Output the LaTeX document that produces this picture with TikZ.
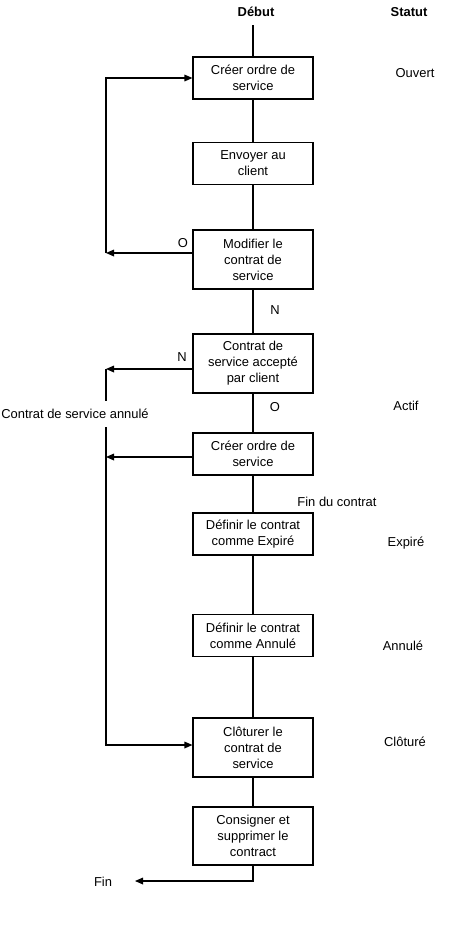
\documentclass[tikz,border=0pt]{standalone}
\usepackage{fontspec}
\setmainfont{Liberation Sans}
\usetikzlibrary{arrows.meta}
\begin{document}
\begin{tikzpicture}[x=0.75pt,y=-0.75pt,
  box/.style={draw,line width=0.85pt,minimum width=90pt,inner sep=0pt,align=center,font=\fontsize{9.7}{12}\selectfont},
  lbl/.style={font=\fontsize{9.7}{12}\selectfont,inner sep=0pt},
  hdr/.style={font=\bfseries\fontsize{9.7}{12}\selectfont,inner sep=0pt},
  ln/.style={line width=0.85pt},
  arr/.style={line width=0.85pt,-{Triangle[length=6pt,width=5pt]}}]
\useasboundingbox (0,0) rectangle (460,929);
\node[hdr] (debut) at (256,12) {Début};
\node[hdr] (statut) at (409,12) {Statut};
\coordinate (top) at (253,25);
\node[box,minimum height=31.5pt] (b1) at (253,78) {Créer ordre de\\service};
\node[box,minimum height=32pt] (b2) at (253,163.5) {Envoyer au\\client};
\node[box,minimum height=44.25pt] (b3) at (253,259.5) {Modifier le\\contrat de\\service};
\node[box,minimum height=44.25pt] (b4) at (253,363.5) {Contrat de\\service accepté\\par client};
\node[box,minimum height=31.5pt] (b5) at (253,454) {Créer ordre de\\service};
\node[box,minimum height=31.5pt] (b6) at (253,534) {Définir le contrat\\comme Expiré};
\node[box,minimum height=32pt] (b7) at (253,635.5) {Définir le contrat\\comme Annulé};
\node[box,minimum height=44.25pt] (b8) at (253,747.5) {Clôturer le\\contrat de\\service};
\node[box,minimum height=43.5pt] (b9) at (253,836) {Consigner et\\supprimer le\\contract};
% status labels
\node[lbl] (s1) at (415,73) {Ouvert};
\node[lbl] (s2) at (406,406) {Actif};
\node[lbl] (s3) at (406,543) {Expiré};
\node[lbl] (s4) at (403,646) {Annulé};
\node[lbl] (s5) at (405,742) {Clôturé};
% branch labels
\node[lbl] (o1) at (183,243) {O};
\node[lbl] (n1) at (275,310) {N};
\node[lbl] (n2) at (182,357) {N};
\node[lbl] (o2) at (275,407) {O};
\node[lbl] (fdc) at (337,502) {Fin du contrat};
\node[lbl] (annul) at (75,414) {Contrat de service annulé};
\node[lbl] (fin) at (103,882) {Fin};
% main vertical flow
\draw[ln] (top) -- (b1.north);
\draw[ln] (b1) -- (b2);
\draw[ln] (b2) -- (b3);
\draw[ln] (b3) -- (b4);
\draw[ln] (b4) -- (b5);
\draw[ln] (b5) -- (b6);
\draw[ln] (b6) -- (b7);
\draw[ln] (b7) -- (b8);
\draw[ln] (b8) -- (b9);
% loop O back to b1
\coordinate (l1) at (106,253);
\coordinate (l0) at (106,78);
\draw[arr] (b3.west |- l1) -- (l1);
\draw[arr] (l1) -- (l0) -- (b1.west);
% refusal branch
\coordinate (l2) at (106,369);
\coordinate (l2t) at (106,401);
\coordinate (l3) at (106,427);
\coordinate (l4) at (106,457);
\coordinate (l5) at (106,745);
\draw[arr] (b4.west |- l2) -- (l2);
\draw[ln] (l2) -- (l2t);
\draw[arr] (b5.west |- l4) -- (l4);
\draw[arr] (l3) -- (l5) -- (b8.west |- l5);
% end
\coordinate (e1) at (253,881);
\coordinate (e2) at (135,881);
\draw[arr] (b9.south) -- (e1) -- (e2);
\end{tikzpicture}
\end{document}
